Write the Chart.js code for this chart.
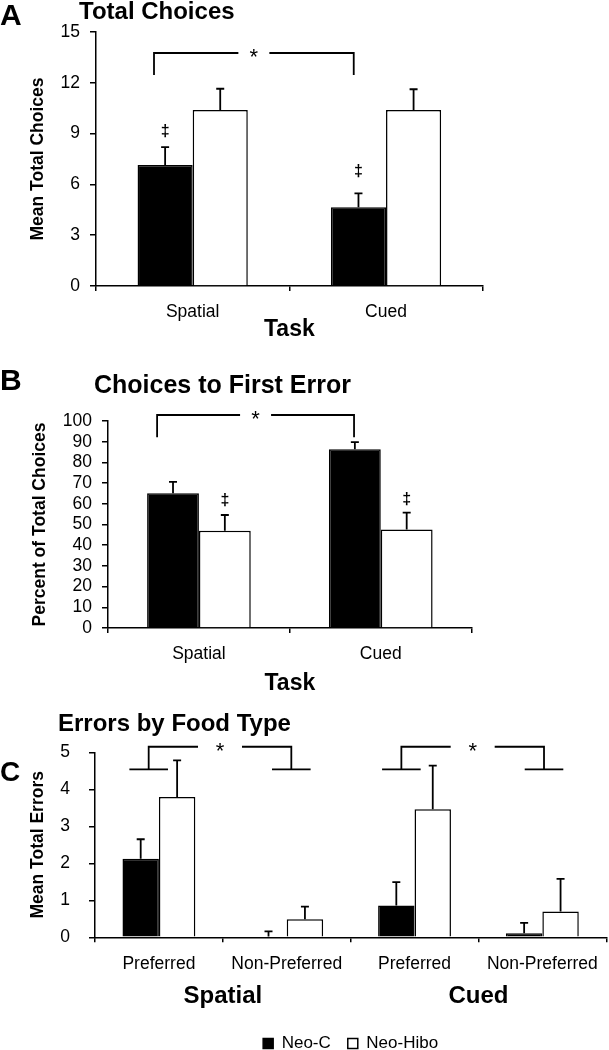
<!DOCTYPE html>
<html>
<head>
<meta charset="utf-8">
<script src="https://cdn.jsdelivr.net/npm/chart.js@4.4.1/dist/chart.umd.min.js"></script>
<style>
  html, body { margin: 0; padding: 0; background: #fff; overflow: hidden; }
  canvas { position: absolute; left: 0; }
</style>
</head>
<body>
<canvas id="panelA" width="609" height="345" style="top:0px"></canvas>
<canvas id="panelB" width="609" height="355" style="top:345px"></canvas>
<canvas id="panelC" width="609" height="362" style="top:700px"></canvas>
<script>
// ---- data ----
const seriesNames = ['Neo-C', 'Neo-Hibo'];
const taskLabels = ['Spatial', 'Cued'];

// A: Total Choices
const totalNeoC = [7.15, 4.65];
const totalNeoCErr = [1.05, 0.82];
const totalHibo = [10.4, 10.4];
const totalHiboErr = [1.25, 1.22];
const totalTicks = [0, 3, 6, 9, 12, 15];
const totalBracket = { from: -0.2, to: 0.833, top: 13.76, end: 12.46 };
const totalDaggers = [9.1, 6.75]; // above Neo-C bars

// B: Choices to First Error
const firstNeoC = [65.1, 86.3];
const firstNeoCErr = [5.5, 3.5];
const firstHibo = [47.0, 47.6];
const firstHiboErr = [7.6, 8.1];
const firstTicks = [0, 10, 20, 30, 40, 50, 60, 70, 80, 90, 100];
const firstBracket = { from: -0.23, to: 0.853, top: 102.9, end: 92.2 };
const firstDaggers = [61.7, 62.0]; // above Neo-Hibo bars

// C: Errors by Food Type
const foodLabels = ['Preferred', 'Non-Preferred', 'Preferred', 'Non-Preferred'];
const foodGroups = ['Spatial', 'Cued'];
const foodNeoC = [2.12, 0.02, 0.86, 0.11];
const foodNeoCErr = [0.53, 0.14, 0.63, 0.28];
const foodHibo = [3.79, 0.49, 3.46, 0.70];
const foodHiboErr = [0.99, 0.34, 1.18, 0.88];
const foodTicks = [0, 1, 2, 3, 4, 5];
const foodBrackets = [
  { from: -0.08, to: 1.036, top: 5.15, end: 4.54, foot: 0.151 },
  { from: 1.897, to: 3.013, top: 5.15, end: 4.54, foot: 0.151 }
];

const FONT = "'Liberation Sans', Arial, Helvetica, sans-serif";
Chart.defaults.font.family = FONT;
Chart.defaults.color = '#000';

// error bars (upper half only)
const errorBars = {
  id: 'errorBars',
  afterDatasetsDraw(chart, args, opts) {
    const ctx = chart.ctx;
    const y = chart.scales.y;
    ctx.save();
    ctx.strokeStyle = '#000';
    ctx.lineWidth = 1.8;
    chart.data.datasets.forEach((ds, i) => {
      chart.getDatasetMeta(i).data.forEach((bar, j) => {
        const top = y.getPixelForValue(ds.data[j]);
        const end = y.getPixelForValue(ds.data[j] + opts.errors[i][j]);
        ctx.beginPath();
        ctx.moveTo(bar.x, top);
        ctx.lineTo(bar.x, end);
        ctx.moveTo(bar.x - 4, end);
        ctx.lineTo(bar.x + 4, end);
        ctx.stroke();
      });
    });
    ctx.restore();
  }
};

// brackets, asterisks, daggers
const sigMarks = {
  id: 'sigMarks',
  afterDraw(chart, args, o) {
    const ctx = chart.ctx;
    const x = chart.scales.x, y = chart.scales.y;
    ctx.save();
    ctx.strokeStyle = '#000';
    ctx.fillStyle = '#000';
    ctx.lineWidth = 1.8;
    ctx.textAlign = 'center';
    ctx.textBaseline = 'middle';
    (o.brackets || []).forEach(b => {
      const x0 = x.getPixelForValue(b.from), x1 = x.getPixelForValue(b.to);
      const yt = y.getPixelForValue(b.top), ye = y.getPixelForValue(b.end);
      const mid = (x0 + x1) / 2;
      ctx.beginPath();
      ctx.moveTo(x0, ye); ctx.lineTo(x0, yt); ctx.lineTo(mid - o.gap, yt);
      ctx.moveTo(mid + o.gap, yt); ctx.lineTo(x1, yt); ctx.lineTo(x1, ye);
      if (b.foot) {
        const f = x.getPixelForValue(b.foot) - x.getPixelForValue(0);
        ctx.moveTo(x0 - f, ye); ctx.lineTo(x0 + f, ye);
        ctx.moveTo(x1 - f, ye); ctx.lineTo(x1 + f, ye);
      }
      ctx.stroke();
      ctx.font = '22px ' + FONT;
      ctx.fillText('*', mid, yt + 5);
    });
    if (o.daggers) {
      ctx.font = 'bold 16px ' + FONT;
      chart.getDatasetMeta(o.daggerSet).data.forEach((bar, j) => {
        ctx.fillText('\u2021', bar.x, y.getPixelForValue(o.daggers[j]));
      });
    }
    ctx.restore();
  }
};

// panel letter and title
const panelText = {
  id: 'panelText',
  afterDraw(chart, args, o) {
    const ctx = chart.ctx;
    ctx.save();
    ctx.fillStyle = '#000';
    ctx.textAlign = 'left';
    ctx.textBaseline = 'alphabetic';
    ctx.font = 'bold ' + o.letterSize + 'px ' + FONT;
    ctx.fillText(o.letter, 0, o.letterY);
    ctx.font = 'bold ' + o.titleSize + 'px ' + FONT;
    ctx.fillText(o.title, o.titleX, o.titleY);
    ctx.restore();
  }
};

function barSets(a, b) {
  return [
    { label: seriesNames[0], data: a, backgroundColor: '#000', borderColor: '#000', borderWidth: 1.5,
      categoryPercentage: 0.57, barPercentage: 1.0 },
    { label: seriesNames[1], data: b, backgroundColor: '#fff', borderColor: '#000', borderWidth: 1.5,
      categoryPercentage: 0.57, barPercentage: 1.0 }
  ];
}

function yAxis(max, ticks, title, width, titlePad, labelPad) {
  return {
    min: 0, max: max,
    afterBuildTicks: s => { s.ticks = ticks.map(v => ({ value: v })); },
    afterFit: s => { s.width = width; },
    grid: { display: true, drawOnChartArea: false, drawTicks: true, tickLength: 6, color: '#000', lineWidth: 1.5 },
    border: { display: true, color: '#000', width: 1.5 },
    ticks: { font: { size: 17.5 }, padding: labelPad, autoSkip: false, color: '#000' },
    title: { display: true, text: title, font: { size: 17.5, weight: 'bold' }, color: '#000',
      padding: { top: titlePad, bottom: 0 } }
  };
}

function xAxis(height, title, titlePad) {
  return {
    afterFit: s => { s.height = height; },
    grid: { display: true, drawOnChartArea: false, drawTicks: true, tickLength: 5, color: '#000', lineWidth: 1.5, offset: true },
    border: { display: true, color: '#000', width: 1.5 },
    ticks: { font: { size: 17.5 }, padding: 11, autoSkip: false, maxRotation: 0, color: '#000' },
    title: { display: !!title, text: title || '', font: { size: 23, weight: 'bold' }, color: '#000',
      padding: { top: 0, bottom: titlePad } }
  };
}

// Panel A
new Chart(document.getElementById('panelA'), {
  type: 'bar',
  data: { labels: taskLabels, datasets: barSets(totalNeoC, totalHibo) },
  plugins: [errorBars, sigMarks, panelText],
  options: {
    responsive: false, animation: false, events: [],
    layout: { padding: { top: 32, right: 126.3, bottom: 0, left: 0 } },
    scales: {
      x: xAxis(59, 'Task', 1.2),
      y: yAxis(15, totalTicks, 'Mean Total Choices', 96, 27.5, 10)
    },
    plugins: {
      legend: { display: false },
      tooltip: { enabled: false },
      errorBars: { errors: [totalNeoCErr, totalHiboErr] },
      sigMarks: { brackets: [totalBracket], gap: 15.5, daggers: totalDaggers, daggerSet: 0 },
      panelText: { letter: 'A', letterSize: 30, letterY: 25, title: 'Total Choices', titleSize: 24, titleX: 79, titleY: 18.5 }
    }
  }
});

// Panel B
new Chart(document.getElementById('panelB'), {
  type: 'bar',
  data: { labels: taskLabels, datasets: barSets(firstNeoC, firstHibo) },
  plugins: [errorBars, sigMarks, panelText],
  options: {
    responsive: false, animation: false, events: [],
    layout: { padding: { top: 76, right: 137.3, bottom: 0, left: 0 } },
    scales: {
      x: xAxis(72, 'Task', 2.2),
      y: yAxis(100, firstTicks, 'Percent of Total Choices', 108, 29.5, 10)
    },
    plugins: {
      legend: { display: false },
      tooltip: { enabled: false },
      errorBars: { errors: [firstNeoCErr, firstHiboErr] },
      sigMarks: { brackets: [firstBracket], gap: 15.5, daggers: firstDaggers, daggerSet: 1 },
      panelText: { letter: 'B', letterSize: 30, letterY: 45, title: 'Choices to First Error', titleSize: 25, titleX: 94, titleY: 48.3 }
    }
  }
});

// Panel C
new Chart(document.getElementById('panelC'), {
  type: 'bar',
  data: { labels: foodLabels, datasets: barSets(foodNeoC, foodHibo) },
  plugins: [errorBars, sigMarks, panelText],
  options: {
    responsive: false, animation: false, events: [],
    layout: { padding: { top: 52.3, right: 1.7, bottom: 0, left: 0 } },
    scales: {
      x: xAxis(40, null, 0),
      x2: {
        type: 'category', axis: 'x', position: 'bottom', labels: foodGroups, offset: true,
        afterFit: s => { s.height = 40.7; },
        grid: { display: false, drawTicks: false },
        border: { display: false },
        ticks: { font: { size: 24, weight: 'bold' }, padding: 5, maxRotation: 0, color: '#000' }
      },
      y: yAxis(5, foodTicks, 'Mean Total Errors', 95, 27.5, 19)
    },
    plugins: {
      legend: {
        display: true, position: 'bottom', fullSize: false,
        labels: { boxWidth: 10, boxHeight: 10, padding: 17, color: '#000', font: { size: 17 } }
      },
      tooltip: { enabled: false },
      errorBars: { errors: [foodNeoCErr, foodHiboErr] },
      sigMarks: { brackets: foodBrackets, gap: 22 },
      panelText: { letter: 'C', letterSize: 28, letterY: 80.7, title: 'Errors by Food Type', titleSize: 24, titleX: 58, titleY: 30.7 }
    }
  }
});
</script>
</body>
</html>
